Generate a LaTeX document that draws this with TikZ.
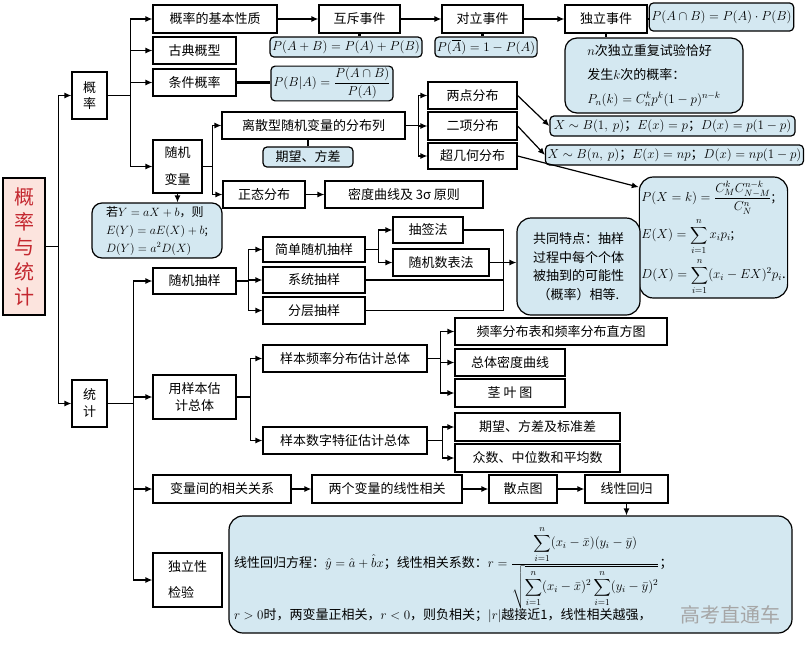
\RequirePackage{fix-cm}
\documentclass[tikz,border=0pt]{standalone}
\usepackage[no-math]{fontspec}
\setmainfont{Noto Sans CJK SC}
\usepackage{amsmath}
\usetikzlibrary{arrows.meta}

\definecolor{boxblue}{RGB}{212,232,241}
\definecolor{rootpink}{RGB}{252,228,222}
\definecolor{rootred}{RGB}{196,40,48}

\tikzset{
  box/.style={draw, line width=1.2pt, inner sep=2pt, align=center, font=\fontsize{13}{17}\selectfont},
  formula/.style={box, fill=boxblue, rounded corners=4pt},
  bigformula/.style={box, fill=boxblue, rounded corners=14pt},
  arr/.style={line width=1.2pt, -{Latex[length=7pt,width=6pt]}},
  link/.style={line width=2.6pt},
  wire/.style={line width=1.2pt}
}

\begin{document}
\begin{tikzpicture}[x=1pt, y=-1pt]
    \useasboundingbox (0,0) rectangle (812,657);

    % root and the two main parts
    \node[box, fill=rootpink, text=rootred, minimum width=42, minimum height=137, font=\fontsize{20}{25}\selectfont] (gltj) at (24,246.5) {概\\率\\与\\统\\计};
    \node[box, minimum width=35, minimum height=47, font=\fontsize{13}{16}\selectfont] (gl) at (89.5,95.5) {概\\率};
    \node[box, minimum width=35, minimum height=47, font=\fontsize{13}{17}\selectfont] (tj) at (89.5,403.5) {统\\计};
    \draw[wire] (gltj.east) -- ++(13,0) coordinate (trunk);
    \draw[arr] (trunk) |- (gl);
    \draw[arr] (trunk) |- (tj);

    % probability
    \node[box, minimum width=124, minimum height=28] (jbxz) at (215,19) {概率的基本性质};
    \node[box, minimum width=83, minimum height=27] (gdgx) at (194.5,50.5) {古典概型};
    \node[box, minimum width=83, minimum height=27] (tjgl) at (194.5,82.5) {条件概率};
    \node[box, minimum width=49, minimum height=53, font=\fontsize{13}{27}\selectfont] (sjbl) at (177.5,166.5) {随机\\变量};
    \draw[wire] (gl.east) -- ++(23,0) coordinate (b1);
    \foreach \n in {jbxz, gdgx, tjgl, sjbl}
      \draw[arr] (b1) |- (\n);

    \node[box, minimum width=81, minimum height=28] (hc) at (359.5,19) {互斥事件};
    \node[box, minimum width=81, minimum height=28] (dl) at (482.5,19) {对立事件};
    \node[box, minimum width=82, minimum height=28] (dlsj) at (606,19) {独立事件};
    \draw[arr] (jbxz) -- (hc);
    \draw[arr] (hc) -- (dl);
    \draw[arr] (dl) -- (dlsj);

    \node[formula, minimum width=152, minimum height=20] (fAB) at (346,47) {$P(A+B)=P(A)+P(B)$};
    \node[formula, minimum width=102, minimum height=20] (fA) at (486,47) {$P(\overline{A})=1-P(A)$};
    \node[formula, minimum width=121, minimum height=28] (fAnB) at (721.5,17) {$P(A\cap B)=P(A)\cdot P(B)$};
    \node[formula, rounded corners=12pt, minimum width=178, minimum height=75, align=left, font=\fontsize{13}{24}\selectfont] (fn) at (654,75.5)
      {$n$次独立重复试验恰好\\发生$k$次的概率：\\$P_n(k)=C_n^k p^k(1-p)^{n-k}$};
    \node[formula, minimum width=122, minimum height=31] (fBA) at (332,83.5) {$P(B|A)=\dfrac{P(A\cap B)}{P(A)}$};
    \draw[link] (hc.south) -- (hc.south |- fAB.north);
    \draw[link] (dl.south) -- (dl.south |- fA.north);
    \draw[link] (dlsj.east) -- (dlsj.east -| fAnB.west);
    \draw[link] (dlsj.south) -- (dlsj.south |- fn.north);
    \draw[link] (tjgl.east) -- (tjgl.east -| fBA.west);

    % random variables
    \node[box, minimum width=183, minimum height=27] (lsx) at (313.5,125.5) {离散型随机变量的分布列};
    \node[formula, minimum width=90, minimum height=20] (qwfc) at (308,157) {期望、方差};
    \node[box, minimum width=82, minimum height=27] (ztfb) at (264,194.5) {正态分布};
    \node[box, minimum width=158, minimum height=27] (mdqx) at (404,194.5) {密度曲线及 3σ 原则};
    \draw[wire] (sjbl.east) -- ++(10,0) coordinate (b2);
    \draw[arr] (b2) |- (lsx);
    \draw[arr] (b2) |- (ztfb);
    \draw[link] (qwfc.north) -- (qwfc.north |- lsx.south);
    \draw[arr] (ztfb) -- (mdqx);

    \node[box, minimum width=89, minimum height=27] (ldfb) at (472.5,95.5) {两点分布};
    \node[box, minimum width=89, minimum height=28] (exfb) at (472.5,126) {二项分布};
    \node[box, minimum width=89, minimum height=26] (cjh) at (472.5,156) {超几何分布};
    \draw[wire] (lsx.east) -- ++(13,0) coordinate (b3);
    \foreach \n in {ldfb, exfb, cjh}
      \draw[arr] (b3) |- (\n);

    \node[formula, minimum width=245, minimum height=20] (fB1) at (672.5,126) {$X\sim B(1,\ p)$；$E(x)=p$；$D(x)=p(1-p)$};
    \node[formula, minimum width=245, minimum height=20] (fBn) at (674.5,155) {$X\sim B(n,\ p)$；$E(x)=np$；$D(x)=np(1-p)$};
    \node[formula, rounded corners=14pt, minimum width=141, minimum height=121, align=left, font=\fontsize{13}{15}\selectfont] (fcjh) at (713.5,237.5)
      {$\displaystyle P(X=k)=\frac{C_M^kC_{N-M}^{n-k}}{C_N^n}$;\\[3pt]
       $\displaystyle E(X)=\sum_{i=1}^n x_ip_i$;\\[3pt]
       $\displaystyle D(X)=\sum_{i=1}^n (x_i-EX)^2p_i$.};
    \draw[arr] (ldfb.east) -- (fB1.west);
    \draw[arr] (exfb.east) -- (fBn.west);
    \draw[arr] (cjh.east) -- (fcjh.146);

    \node[formula, rounded corners=10pt, minimum width=130, minimum height=55, align=left, font=\fontsize{12}{18}\selectfont] (fY) at (157,230.5)
      {若$Y=aX+b$，则\\$E(Y)=aE(X)+b$;\\$D(Y)=a^2D(X)$};
    \draw[arr] (sjbl.south) -- (sjbl.south |- fY.north);

    % statistics: sampling
    \node[box, minimum width=83, minimum height=26] (sjcy) at (194.5,281) {随机抽样};
    \node[box, minimum width=83, minimum height=44, font=\fontsize{13}{17}\selectfont] (ybgj) at (194.5,397) {用样本估\\计总体};
    \node[box, minimum width=138, minimum height=28] (blxg) at (222,489) {变量间的相关关系};
    \node[box, minimum width=69, minimum height=54, align=left, font=\fontsize{13}{26}\selectfont] (dlxjy) at (187.5,580) {独立性\\检验};
    \draw[wire] (tj.east) -- ++(26,0) coordinate (b4);
    \foreach \n in {sjcy, ybgj, blxg, dlxjy}
      \draw[arr] (b4) |- (\n);

    \node[box, minimum width=102, minimum height=25] (jdsj) at (314,249.5) {简单随机抽样};
    \node[box, minimum width=102, minimum height=26] (xtcy) at (314,280) {系统抽样};
    \node[box, minimum width=102, minimum height=27] (fccy) at (314,310.5) {分层抽样};
    \draw[wire] (sjcy.east) -- ++(12,0) coordinate (b5);
    \foreach \n in {jdsj, xtcy, fccy}
      \draw[arr] (b5) |- (\n);

    \node[box, minimum width=70, minimum height=26] (cqf) at (428,230) {抽签法};
    \node[box, minimum width=96, minimum height=27] (sjsb) at (441,262.5) {随机数表法};
    \draw[wire] (jdsj.east) -- ++(13,0) coordinate (b6);
    \draw[arr] (b6) |- (cqf);
    \draw[arr] (b6) |- (sjsb);

    \node[formula, rounded corners=14pt, minimum width=123, minimum height=97, font=\fontsize{13}{18.5}\selectfont] (gttd) at (578.5,266.5)
      {共同特点：抽样\\过程中每个个体\\被抽到的可能性\\（概率）相等.};
    \draw[wire] (cqf.east) -- ++(40,0) coordinate (b7);
    \draw[wire] (b7) |- (fccy.east);
    \draw[wire] (xtcy.east) -- (xtcy.east -| b7);
    \draw[arr] (sjsb.east) -- (sjsb.east -| gttd.west);

    % statistics: estimating the population
    \node[box, minimum width=164, minimum height=27] (yblv) at (345,358.5) {样本频率分布估计总体};
    \node[box, minimum width=164, minimum height=27] (ybsz) at (345,440.5) {样本数字特征估计总体};
    \draw[wire] (ybgj.east) -- ++(14,0) coordinate (b8);
    \draw[arr] (b8) |- (yblv);
    \draw[arr] (b8) |- (ybsz);

    \node[box, minimum width=212, minimum height=27] (plfb) at (561,331.5) {频率分布表和频率分布直方图};
    \node[box, minimum width=110, minimum height=27] (ztmd) at (510,362.5) {总体密度曲线};
    \node[box, minimum width=110, minimum height=28] (jyt) at (510,393) {茎\ 叶\ 图};
    \draw[wire] (yblv.east) -- ++(13,0) coordinate (b9);
    \foreach \n in {plfb, ztmd, jyt}
      \draw[arr] (b9) |- (\n);

    \node[box, minimum width=165, minimum height=28] (qwbz) at (537.5,427) {期望、方差及标准差};
    \node[box, minimum width=165, minimum height=28] (zs) at (537.5,458) {众数、中位数和平均数};
    \draw[wire] (ybsz.east) -- ++(15,0) coordinate (b10);
    \draw[arr] (b10) |- (qwbz);
    \draw[arr] (b10) |- (zs);

    % statistics: correlation
    \node[box, minimum width=150, minimum height=28] (lgbl) at (387,489) {两个变量的线性相关};
    \node[box, minimum width=68, minimum height=28] (sdt) at (523,489) {散点图};
    \node[box, minimum width=83, minimum height=28] (xxhg) at (626.5,489) {线性回归};
    \draw[arr] (blxg) -- (lgbl);
    \draw[arr] (lgbl) -- (sdt);
    \draw[arr] (sdt) -- (xxhg);

    \node[bigformula, minimum width=563, minimum height=117, text width=553, align=left, font=\fontsize{13}{17}\selectfont] (fhg) at (510.5,574.5)
      {线性回归方程：$\hat{y}=\hat{a}+\hat{b}x$；线性相关系数：$r=\dfrac{\displaystyle\sum_{i=1}^n(x_i-\bar{x})(y_i-\bar{y})}{\sqrt{\displaystyle\sum_{i=1}^n(x_i-\bar{x})^2\sum_{i=1}^n(y_i-\bar{y})^2}}$；\\[-2pt]
       $r>0$时，两变量正相关，$r<0$，则负相关；$|r|$越接近1，线性相关越强，};
    \draw[arr] (xxhg.south) -- (xxhg.south |- fhg.north);
    \node[text=gray!70, font=\fontsize{20}{22}\selectfont] (wm) at (730,615) {高考直通车};

\end{tikzpicture}
\end{document}
